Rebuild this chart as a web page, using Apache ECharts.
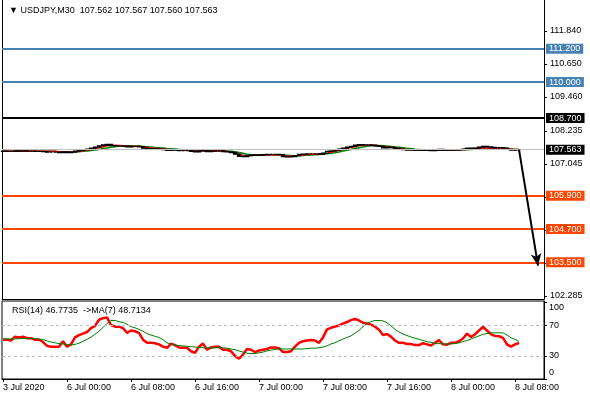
<!DOCTYPE html>
<html>
<head>
<meta charset="utf-8">
<script src="https://cdn.jsdelivr.net/npm/echarts@6/dist/echarts.min.js"></script>
<style>
  html, body { margin: 0; padding: 0; background: #fff; }
  #chart { width: 590px; height: 400px; }
</style>
</head>
<body>
<div id="chart"></div>
<script>
// M30 bars, each row is [open, close, low, high]
const candles = [
  [107.50,107.51,107.49,107.52],[107.51,107.50,107.49,107.52],[107.50,107.50,107.49,107.51],[107.50,107.52,107.50,107.53],
  [107.52,107.51,107.50,107.52],[107.51,107.52,107.50,107.53],[107.52,107.51,107.50,107.52],[107.51,107.51,107.50,107.52],
  [107.51,107.50,107.49,107.51],[107.50,107.50,107.49,107.51],[107.50,107.49,107.48,107.50],[107.49,107.47,107.46,107.49],
  [107.47,107.47,107.46,107.48],[107.47,107.47,107.46,107.48],[107.47,107.46,107.45,107.47],[107.46,107.48,107.45,107.49],
  [107.48,107.46,107.45,107.48],[107.46,107.47,107.45,107.48],[107.47,107.51,107.47,107.52],[107.51,107.54,107.50,107.55],
  [107.54,107.56,107.53,107.57],[107.56,107.58,107.55,107.59],[107.58,107.62,107.57,107.63],[107.62,107.65,107.61,107.66],
  [107.65,107.70,107.64,107.71],[107.70,107.73,107.69,107.74],[107.73,107.75,107.72,107.77],[107.75,107.71,107.70,107.75],
  [107.71,107.70,107.69,107.72],[107.70,107.70,107.69,107.71],[107.70,107.69,107.68,107.71],[107.69,107.66,107.65,107.70],
  [107.66,107.68,107.65,107.69],[107.68,107.68,107.67,107.69],[107.68,107.67,107.66,107.69],[107.67,107.62,107.61,107.67],
  [107.62,107.60,107.59,107.63],[107.60,107.60,107.59,107.61],[107.60,107.59,107.58,107.61],[107.59,107.58,107.57,107.60],
  [107.58,107.56,107.55,107.59],[107.56,107.54,107.53,107.57],[107.54,107.57,107.53,107.58],[107.57,107.55,107.54,107.57],
  [107.55,107.53,107.52,107.56],[107.53,107.53,107.52,107.54],[107.53,107.53,107.52,107.54],[107.53,107.50,107.49,107.54],
  [107.50,107.48,107.47,107.51],[107.48,107.52,107.48,107.53],[107.52,107.55,107.51,107.56],[107.55,107.49,107.48,107.55],
  [107.49,107.51,107.48,107.52],[107.51,107.52,107.50,107.53],[107.52,107.52,107.51,107.53],[107.52,107.49,107.48,107.53],
  [107.49,107.48,107.47,107.50],[107.48,107.46,107.45,107.49],[107.46,107.40,107.39,107.47],[107.40,107.32,107.31,107.41],
  [107.32,107.31,107.30,107.34],[107.31,107.35,107.30,107.36],[107.35,107.37,107.34,107.38],[107.37,107.36,107.35,107.38],
  [107.36,107.37,107.35,107.38],[107.37,107.38,107.36,107.39],[107.38,107.39,107.37,107.40],[107.39,107.39,107.38,107.40],
  [107.39,107.39,107.38,107.40],[107.39,107.38,107.37,107.40],[107.38,107.31,107.30,107.38],[107.31,107.30,107.29,107.32],
  [107.30,107.31,107.29,107.32],[107.31,107.35,107.30,107.36],[107.35,107.39,107.34,107.40],[107.39,107.40,107.38,107.41],
  [107.40,107.41,107.39,107.42],[107.41,107.41,107.40,107.42],[107.41,107.41,107.40,107.42],[107.41,107.40,107.39,107.42],
  [107.40,107.44,107.39,107.45],[107.44,107.50,107.43,107.51],[107.50,107.52,107.49,107.53],[107.52,107.55,107.51,107.56],
  [107.55,107.58,107.54,107.59],[107.58,107.62,107.57,107.63],[107.62,107.65,107.61,107.66],[107.65,107.68,107.64,107.69],
  [107.68,107.72,107.67,107.73],[107.72,107.74,107.71,107.75],[107.74,107.73,107.72,107.75],[107.73,107.73,107.72,107.74],
  [107.73,107.72,107.71,107.74],[107.72,107.70,107.69,107.73],[107.70,107.68,107.67,107.71],[107.68,107.63,107.62,107.69],
  [107.63,107.65,107.62,107.66],[107.65,107.64,107.63,107.66],[107.64,107.61,107.60,107.65],[107.61,107.58,107.57,107.62],
  [107.58,107.56,107.55,107.59],[107.56,107.55,107.54,107.57],[107.55,107.55,107.54,107.56],[107.55,107.54,107.53,107.56],
  [107.54,107.54,107.53,107.55],[107.54,107.55,107.53,107.56],[107.55,107.54,107.53,107.56],[107.54,107.53,107.52,107.55],
  [107.53,107.55,107.52,107.56],[107.55,107.57,107.54,107.58],[107.57,107.54,107.53,107.57],[107.54,107.54,107.53,107.55],
  [107.54,107.55,107.53,107.56],[107.55,107.55,107.54,107.56],[107.55,107.56,107.54,107.57],[107.56,107.58,107.55,107.59],
  [107.58,107.62,107.57,107.63],[107.62,107.60,107.59,107.63],[107.60,107.62,107.59,107.63],[107.62,107.65,107.61,107.66],
  [107.65,107.68,107.64,107.69],[107.68,107.66,107.65,107.69],[107.66,107.64,107.63,107.67],[107.64,107.63,107.62,107.65],
  [107.63,107.63,107.62,107.64],[107.63,107.62,107.61,107.64],[107.62,107.57,107.56,107.62],[107.57,107.55,107.54,107.58],
  [107.55,107.56,107.54,107.57],[107.562,107.563,107.560,107.567]
];

// moving averages drawn on the price pane
const maFast = [
  107.505,107.505,107.505,107.505,107.505,107.505,107.505,107.505,107.505,107.505,107.505,107.505,107.505,107.505,
  107.48,107.48,107.48,107.48,107.48,107.50,
  107.52,107.55,107.57,107.60,107.63,107.66,107.70,107.72,
  107.72,107.71,107.70,107.69,107.68,107.68,107.68,107.66,
  107.64,107.62,107.61,107.60,107.59,
  107.57,107.56,107.56,107.55,107.54,107.54,107.52,107.51,107.51,
  107.52,107.52,107.51,107.51,107.52,
  107.51,107.50,107.48,107.45,107.40,107.36,107.34,
  107.35,107.36,107.36,107.37,107.37,107.38,107.38,107.38,
  107.36,107.33,107.32,107.32,
  107.35,107.37,107.39,107.40,107.40,107.40,
  107.41,107.44,107.47,107.50,107.54,107.57,107.61,107.64,
  107.67,107.70,107.72,107.72,107.72,
  107.71,107.70,107.67,107.66,107.65,107.63,107.61,
  107.59,107.57,107.56,107.55,
  107.54,107.54,107.54,107.54,107.545,107.55,107.55,107.55,107.55,107.55,107.555,107.565,
  107.58,107.59,107.60,
  107.60,107.62,107.62,107.62,107.61,107.61,107.61,107.60,
  107.58,107.57,107.565
];
const maSlow = [
  107.505,107.505,107.505,107.505,107.505,107.505,107.505,107.505,107.505,107.505,107.505,107.505,107.505,107.505,
  107.49,107.49,107.49,107.49,
  107.49,107.49,107.50,107.51,
  107.53,107.55,107.57,107.60,107.62,107.65,
  107.67,107.69,107.70,107.70,107.70,107.69,107.69,107.68,
  107.67,107.66,107.64,107.63,107.62,
  107.60,107.59,107.58,107.57,107.56,107.55,107.54,107.53,107.53,
  107.52,107.52,107.52,107.52,107.52,
  107.52,107.51,107.50,107.49,
  107.46,107.43,107.40,
  107.38,107.37,107.36,107.36,107.36,107.37,107.37,107.38,
  107.37,107.36,107.35,107.34,
  107.34,107.35,107.36,107.37,107.38,107.39,
  107.40,107.41,107.43,
  107.45,107.48,107.51,107.54,107.57,
  107.60,107.63,107.66,107.68,107.70,
  107.71,107.71,107.70,107.69,107.68,107.66,107.65,
  107.63,107.61,107.60,107.58,
  107.57,107.56,107.56,107.55,107.55,107.55,107.55,107.55,107.55,107.55,107.55,107.555,
  107.56,107.57,107.58,
  107.58,107.59,107.60,107.61,107.61,107.61,107.61,107.60,
  107.59,107.58,107.57
];

// RSI(14) and its MA(7)
const rsi = [
  51,51,50,55,54,55,53,53,51,51, 48,43,42,42,42,49,42,45,54,57,
  59,61,66,69,77,79,80,70,68,68, 66,60,63,62,60,51,47,47,46.5,45,
  42,40.5,46,44,41,40.5,40.5,36,34,42, 46,38,41,42,42,38,38,36,30,26.5,
  31.7,39,38,35,37,38,39,41,41,40, 35,35,36,42,47,49,50,50.5,50,47,
  54,64.5,66.5,68,69.5,72,74,76.5,78,76, 73,72,70.5,68,64,57,58.5,55,50,47,
  47,45.5,45.5,44,44,46.5,45,43.5,47,50.5, 45,44.5,47,47,49,52.5,59,54.5,58,63,
  67.5,63,58,56,55.5,53.5,45,42,45,46.7735
];
const rsiMa = [
  52,52,52,52,52.5,52.5,52.5,52.5,52.5,52, 51,49.5,48,47,46,45.5,45,44,45,46.5,
  49,51.5,54.5,58,62,67,72,76,76,74.5, 73.5,71,68,66.5,64.5,62,59,57,55.5,54,
  51,47,45.5,44,43.5,43,42.5,42,41.5,41, 40.5,40.5,40.5,40.5,40.5,40.5,40,39,38,36.5,
  35,33.5,33,33,34,35,36.5,37.5,38.5,39, 39,39,39,39,39,39,39.5,40,40,40.5,
  41.5,43,45.5,47,49.5,52,54,56,59.5,63, 68,72,74.5,76,76,75.5,73,69,64.5,61,
  58.5,56.5,54.5,53,51.5,50,48.5,47.5,46.5,46, 45.5,45.5,45.5,46,47,48.5,50,52,54,56,
  58,59,60,60,60,60,57,53.5,51.5,48.7134
];

// time scale: bar index -> label
const timeTicks = [0, 16, 32, 48, 64, 80, 96, 112, 128];
const timeLabels = ['3 Jul 2020', '6 Jul 00:00', '6 Jul 08:00', '6 Jul 16:00', '7 Jul 00:00',
                    '7 Jul 08:00', '7 Jul 16:00', '8 Jul 00:00', '8 Jul 08:00'];

const priceTicks = [111.84, 110.65, 109.46, 108.235, 107.045, 105.855, 104.665, 103.475, 102.285];
const priceLabels = [111.84, 110.65, 109.46, 108.235, 107.045, 102.285];
const blueLevels = [111.2, 110.0];
const blackLevels = [108.7];
const redLevels = [105.9, 104.7, 103.5];
const bid = 107.563;
const arrowFrom = [129, 107.563];
const arrowTo = [133.75, 103.38];

const rsiTicks = [0, 30, 70, 100];
const rsiLevels = [30, 70];

const FONT = '"Liberation Sans", Arial, sans-serif';

function level(v, color, width, lineColor) {
    return {
        yAxis: v,
        lineStyle: { color: lineColor || color, width: width, type: 'solid' },
        label: {
            show: true,
            position: 'end',
            distance: 2,
            formatter: v.toFixed(3),
            color: '#fff',
            backgroundColor: color,
            fontSize: 9,
            fontFamily: FONT,
            lineHeight: 10,
            padding: [0, 3, 0, 3]
        }
    };
}

let last = candles[candles.length - 1];
let header = '\u25BC USDJPY,M30  ' + [last[0], last[3], last[2], last[1]].map(v => v.toFixed(3)).join(' ');
let rsiHeader = 'RSI(14) ' + rsi[rsi.length - 1].toFixed(4) + '  ->MA(7) ' + rsiMa[rsiMa.length - 1].toFixed(4);

let levelLines = [];
blueLevels.forEach(v => levelLines.push(level(v, '#4682B4', 2)));
blackLevels.forEach(v => levelLines.push(level(v, '#000000', 2)));
redLevels.forEach(v => levelLines.push(level(v, '#FF4500', 2)));
levelLines.push(level(bid, '#000000', 1, '#C0C0C0'));
levelLines.push([
    { coord: arrowFrom, symbol: 'none', lineStyle: { color: '#000', width: 2, type: 'solid' }, label: { show: false } },
    { coord: arrowTo, symbol: 'arrow', symbolSize: [8, 12] }
]);

const xMin = -0.25, xMax = 135.25;

let option = {
    animation: false,
    backgroundColor: '#fff',
    textStyle: { fontFamily: FONT },
    title: [
        { text: header, left: 4, top: 1, textStyle: { fontSize: 9, fontWeight: 'normal', color: '#000', fontFamily: FONT } },
        { text: rsiHeader, left: 7, top: 301, textStyle: { fontSize: 9, fontWeight: 'normal', color: '#000', fontFamily: FONT } }
    ],
    grid: [
        { left: 2, right: 46, top: 0, height: 299, show: false },
        { left: 2, right: 46, top: 301, height: 78, show: true, borderColor: '#000', borderWidth: 1, backgroundColor: 'transparent' }
    ],
    xAxis: [
        {
            type: 'value', gridIndex: 0, min: xMin, max: xMax,
            axisLine: { show: true, onZero: false, lineStyle: { color: '#000' } },
            axisTick: { show: false }, axisLabel: { show: false }, splitLine: { show: false }
        },
        {
            type: 'value', gridIndex: 1, min: xMin, max: xMax,
            axisLine: { show: true, onZero: false, lineStyle: { color: '#000' } },
            axisTick: { show: true, length: 3, customValues: timeTicks, lineStyle: { color: '#000' } },
            axisLabel: {
                customValues: timeTicks,
                formatter: v => timeLabels[timeTicks.indexOf(v)],
                align: 'left', margin: 4, fontSize: 9, color: '#000', fontFamily: FONT
            },
            splitLine: { show: false }
        }
    ],
    yAxis: [
        {
            type: 'value', gridIndex: 0, position: 'right', min: 102.177, max: 112.958,
            axisLine: { show: true, onZero: false, lineStyle: { color: '#000' } },
            axisTick: { show: true, length: 3, customValues: priceTicks, lineStyle: { color: '#000' } },
            axisLabel: {
                customValues: priceLabels,
                formatter: v => v.toFixed(3),
                margin: 6, fontSize: 9, color: '#000', fontFamily: FONT
            },
            splitLine: { show: false }
        },
        {
            type: 'value', gridIndex: 0, position: 'left', min: 102.177, max: 112.958,
            axisLine: { show: true, onZero: false, lineStyle: { color: '#000' } },
            axisTick: { show: false }, axisLabel: { show: false }, splitLine: { show: false }
        },
        {
            type: 'value', gridIndex: 1, position: 'right', min: 0, max: 101.3,
            axisLine: { show: true, onZero: false, lineStyle: { color: '#000' } },
            axisTick: { show: true, length: 3, customValues: rsiTicks, lineStyle: { color: '#000' } },
            axisLabel: {
                customValues: rsiTicks,
                formatter: v => v === 100 ? '{a|100}' : (v === 0 ? '{b|0}' : String(v)),
                rich: {
                    a: { padding: [11, 0, 0, 0], fontSize: 9, color: '#000', fontFamily: FONT },
                    b: { padding: [0, 0, 13, 0], fontSize: 9, color: '#000', fontFamily: FONT }
                },
                margin: 5, fontSize: 9, color: '#000', fontFamily: FONT
            },
            splitLine: { show: false }
        }
    ],
    series: [
        {
            name: 'MA slow', type: 'line', xAxisIndex: 0, yAxisIndex: 0,
            data: maSlow.map((v, i) => [i, v]),
            step: 'middle', symbol: 'none', z: 2,
            lineStyle: { color: '#008000', width: 1.5 }
        },
        {
            name: 'MA fast', type: 'line', xAxisIndex: 0, yAxisIndex: 0,
            data: maFast.map((v, i) => [i, v]),
            step: 'middle', symbol: 'none', z: 2,
            lineStyle: { color: '#FF0000', width: 1.5 }
        },
        {
            name: 'USDJPY', type: 'candlestick', xAxisIndex: 0, yAxisIndex: 0,
            data: candles.map((c, i) => [i, c[0], c[1], c[2], c[3]]),
            encode: { x: 0, y: [1, 2, 3, 4] },
            barWidth: 3, z: 3,
            itemStyle: { color: '#fff', color0: '#000', borderColor: '#000', borderColor0: '#000', borderWidth: 1.3 },
            markLine: {
                silent: true, symbol: ['none', 'none'],
                data: levelLines
            }
        },
        {
            name: 'RSI(14)', type: 'line', xAxisIndex: 1, yAxisIndex: 2,
            data: rsi.map((v, i) => [i, v]),
            symbol: 'none', z: 3,
            lineStyle: { color: '#FF0000', width: 2.5 },
            markLine: {
                silent: true, symbol: ['none', 'none'],
                label: { show: false },
                lineStyle: { color: '#C0C0C0', width: 1, type: [3, 3] },
                data: rsiLevels.map(v => ({ yAxis: v }))
            }
        },
        {
            name: 'MA(7)', type: 'line', xAxisIndex: 1, yAxisIndex: 2,
            data: rsiMa.map((v, i) => [i, v]),
            symbol: 'none', z: 4,
            lineStyle: { color: '#008000', width: 1 }
        }
    ]
};

let myChart = echarts.init(document.getElementById('chart'));
myChart.setOption(option);
</script>
</body>
</html>
